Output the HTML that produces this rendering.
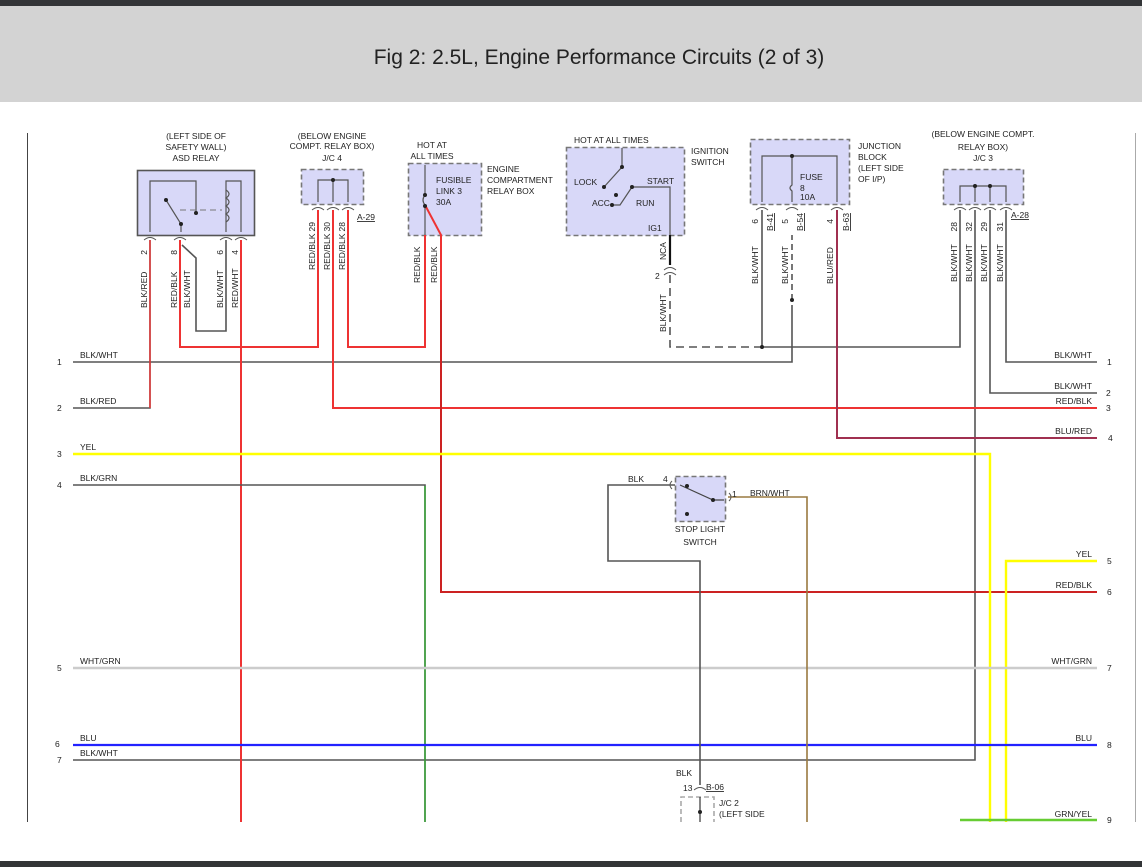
<!DOCTYPE html>
<html><head><meta charset="utf-8"><style>
html,body{margin:0;padding:0;background:#fff;}
svg{display:block;font-family:"Liberation Sans",sans-serif;}
</style></head><body>
<svg width="1142" height="867" viewBox="0 0 1142 867" xmlns="http://www.w3.org/2000/svg">
<rect x="0" y="0" width="1142" height="6" fill="#333537"/>
<rect x="0" y="6" width="1142" height="96" fill="#d3d3d3"/>
<text x="599" y="64" font-size="21" text-anchor="middle" fill="#222">Fig 2: 2.5L, Engine Performance Circuits (2 of 3)</text>
<rect x="0" y="861" width="1142" height="6" fill="#333537"/>
<line x1="27.5" y1="133" x2="27.5" y2="822" stroke="#444" stroke-width="1"/>
<line x1="1135.5" y1="133" x2="1135.5" y2="822" stroke="#aaa" stroke-width="1"/>

<g fill="none" stroke-width="1.6">
<!-- boxes -->
<rect x="137.5" y="170.5" width="117" height="65" fill="#d8d8f8" stroke="#555"/>
<rect x="301.5" y="169.5" width="62" height="35" fill="#d8d8f8" stroke="#777" stroke-dasharray="5,3"/>
<rect x="408.5" y="163.5" width="73" height="72" fill="#d8d8f8" stroke="#777" stroke-dasharray="5,3"/>
<rect x="566.5" y="147.5" width="118" height="88" fill="#d8d8f8" stroke="#777" stroke-dasharray="5,3"/>
<rect x="750.5" y="139.5" width="99" height="65" fill="#d8d8f8" stroke="#777" stroke-dasharray="5,3"/>
<rect x="943.5" y="169.5" width="80" height="35" fill="#d8d8f8" stroke="#777" stroke-dasharray="5,3"/>
<rect x="675.5" y="476.5" width="50" height="45" fill="#d8d8f8" stroke="#777" stroke-dasharray="5,3"/>
<path d="M681 822 V797 H714 V822" stroke="#aaa" stroke-dasharray="5,3"/>

<!-- internal ASD -->
<path d="M150 232 V181 H196 V213 M226 232 V181 H241 V232" stroke="#555" stroke-width="1.2"/>
<path d="M166 200 L181 224 V232" stroke="#555" stroke-width="1.2"/>
<path d="M180 210 H222" stroke="#777" stroke-width="1" stroke-dasharray="6,4"/>
<path d="M226 190 q6 4 0 8 q6 4 0 8 q6 4 0 8 q6 4 0 8" stroke="#555" stroke-width="1.2"/>
<!-- J/C4 internal -->
<path d="M318 202 V180 H348 V202 M333 180 V202" stroke="#555" stroke-width="1.2"/>
<!-- fusible -->
<path d="M425 165 V195 q-4 5 0 10 V235" stroke="#555" stroke-width="1.2"/>
<!-- ignition -->
<path d="M622 148 V167 L604 187 M612 205 H620 L632 187 H670 V235" stroke="#555" stroke-width="1.2"/>
<!-- junction block -->
<path d="M762 202 V156 H837 V202 M792 156 V185 q-4 3 0 6 V202" stroke="#555" stroke-width="1.2"/>
<!-- J/C3 -->
<path d="M960 202 V186 H1006 V202 M975 186 V202 M990 186 V202" stroke="#555" stroke-width="1.2"/>
<!-- stop light -->
<path d="M680 485 L713 500 H724" stroke="#444" stroke-width="1.2"/>

<!-- wires -->
<path d="M73 362 H792 V305" stroke="#555"/>
<path d="M792 300 V235" stroke="#555" stroke-dasharray="6,4"/>
<path d="M73 408 H150 V240" stroke="#555"/>
<path d="M150 408 V240" stroke="#e33" stroke-width="1.4"/>
<path d="M1097 362 H1006 V210" stroke="#555"/>
<path d="M1097 393 H990 V210" stroke="#555"/>
<path d="M975 210 V760 H73" stroke="#555"/>
<path d="M960 210 V347 H762 V210" stroke="#555"/>
<path d="M670 235 V265" stroke="#111" stroke-width="2.2"/>
<path d="M670 275 V347 H762" stroke="#555" stroke-dasharray="8,5"/>
<path d="M180 240 V347 H318 V210" stroke="#e33" stroke-width="2"/>
<path d="M182 245 L196 258 V331 H226 V240" stroke="#555"/>
<path d="M241 240 V822" stroke="#e33" stroke-width="2"/>
<path d="M333 210 V408 H1097" stroke="#e33" stroke-width="2"/>
<path d="M348 210 V347 H425 V235" stroke="#e33" stroke-width="2"/>
<path d="M425 205 L441 235 V592 H1097" stroke="#e33" stroke-width="2"/>
<path d="M441 300 V592 H1097" stroke="#c22" stroke-width="2"/>
<path d="M837 210 V438 H1097" stroke="#a03050" stroke-width="2"/>
<path d="M73 454 H990 V822" stroke="#ff0" stroke-width="2.4"/>
<path d="M1097 561 H1006 V822" stroke="#ff0" stroke-width="2.4"/>
<path d="M73 485 H425 V822" stroke="#555"/>
<path d="M425 486 V822" stroke="#3a3" stroke-width="1.4"/>
<path d="M73 668 H1097" stroke="#ccc" stroke-width="2.4"/>
<path d="M73 745 H1097" stroke="#22f" stroke-width="2.2"/>
<path d="M960 820 H1097" stroke="#6c3" stroke-width="2.4"/>
<path d="M675 485 H608 V561 H700 V785" stroke="#555"/>
<path d="M728 497 H807 V822" stroke="#9a7a40"/>
<path d="M700 797 V822" stroke="#333" stroke-width="1.2"/>
</g>
<g fill="#222">
<circle cx="196" cy="213" r="2"/><circle cx="166" cy="200" r="2"/><circle cx="181" cy="224" r="2"/>
<circle cx="333" cy="180" r="2"/><circle cx="425" cy="195" r="2"/><circle cx="425" cy="206" r="2"/>
<circle cx="622" cy="167" r="2"/><circle cx="604" cy="187" r="2"/><circle cx="616" cy="195" r="2"/><circle cx="612" cy="205" r="2"/><circle cx="632" cy="187" r="2"/>
<circle cx="792" cy="156" r="2"/><circle cx="792" cy="300" r="2"/><circle cx="762" cy="347" r="2"/>
<circle cx="975" cy="186" r="2"/><circle cx="990" cy="186" r="2"/>
<circle cx="687" cy="486" r="2"/><circle cx="713" cy="500" r="2"/><circle cx="687" cy="514" r="2"/><circle cx="700" cy="812" r="2"/>
</g>
<g fill="none" stroke="#555" stroke-width="1">
<path d="M144 240 q6 -5 12 0 M174 240 q6 -5 12 0 M220 240 q6 -5 12 0 M235 240 q6 -5 12 0"/>
<path d="M312 210 q6 -5 12 0 M327 210 q6 -5 12 0 M342 210 q6 -5 12 0"/>
<path d="M756 210 q6 -5 12 0 M786 210 q6 -5 12 0 M831 210 q6 -5 12 0"/>
<path d="M954 210 q6 -5 12 0 M969 210 q6 -5 12 0 M984 210 q6 -5 12 0 M1000 210 q6 -5 12 0"/>
<path d="M664 270 q6 -5 12 0 M664 275 q6 -5 12 0 M694 790 q6 -5 12 0"/>
<path d="M672 481 q-4 4 0 8 M729 493 q4 4 0 8"/>
</g>
<g font-size="8.5" fill="#222">
<text x="196" y="139" text-anchor="middle">(LEFT SIDE OF</text>
<text x="196" y="150" text-anchor="middle">SAFETY WALL)</text>
<text x="196" y="161" text-anchor="middle">ASD RELAY</text>
<text x="332" y="139" text-anchor="middle">(BELOW ENGINE</text>
<text x="332" y="149" text-anchor="middle">COMPT. RELAY BOX)</text>
<text x="332" y="161" text-anchor="middle">J/C 4</text>
<text x="432" y="148" text-anchor="middle">HOT AT</text>
<text x="432" y="159" text-anchor="middle">ALL TIMES</text>
<text x="436" y="183">FUSIBLE</text><text x="436" y="194">LINK 3</text><text x="436" y="205">30A</text>
<text x="487" y="172">ENGINE</text><text x="487" y="183">COMPARTMENT</text><text x="487" y="194">RELAY BOX</text>
<text x="574" y="143">HOT AT ALL TIMES</text>
<text x="691" y="154">IGNITION</text><text x="691" y="165">SWITCH</text>
<text x="574" y="185">LOCK</text><text x="592" y="206">ACC</text><text x="647" y="184">START</text><text x="636" y="206">RUN</text><text x="648" y="231">IG1</text>
<text x="800" y="180">FUSE</text><text x="800" y="191">8</text><text x="800" y="200">10A</text>
<text x="858" y="149">JUNCTION</text><text x="858" y="160">BLOCK</text><text x="858" y="171">(LEFT SIDE</text><text x="858" y="182">OF I/P)</text>
<text x="983" y="137" text-anchor="middle">(BELOW ENGINE COMPT.</text>
<text x="983" y="150" text-anchor="middle">RELAY BOX)</text>
<text x="983" y="161" text-anchor="middle">J/C 3</text>
<text x="357" y="220" text-decoration="underline">A-29</text>
<text x="1011" y="218" text-decoration="underline">A-28</text>
<text x="628" y="482">BLK</text><text x="663" y="482">4</text><text x="732" y="497">1</text><text x="750" y="496">BRN/WHT</text>
<text x="700" y="532" text-anchor="middle">STOP LIGHT</text><text x="700" y="545" text-anchor="middle">SWITCH</text>
<text x="676" y="776">BLK</text><text x="683" y="791">13</text><text x="706" y="790" text-decoration="underline">B-06</text>
<text x="719" y="806">J/C 2</text><text x="719" y="817">(LEFT SIDE</text>
<text x="655" y="279">2</text>
<text x="80" y="358">BLK/WHT</text><text x="80" y="404">BLK/RED</text><text x="80" y="450">YEL</text><text x="80" y="481">BLK/GRN</text>
<text x="80" y="664">WHT/GRN</text><text x="80" y="741">BLU</text><text x="80" y="756">BLK/WHT</text>
<text x="57" y="365">1</text><text x="57" y="411">2</text><text x="57" y="457">3</text><text x="57" y="488">4</text><text x="57" y="671">5</text><text x="55" y="747">6</text><text x="57" y="763">7</text>
<g text-anchor="end">
<text x="1092" y="358">BLK/WHT</text><text x="1092" y="389">BLK/WHT</text><text x="1092" y="404">RED/BLK</text><text x="1092" y="434">BLU/RED</text>
<text x="1092" y="557">YEL</text><text x="1092" y="588">RED/BLK</text><text x="1092" y="664">WHT/GRN</text><text x="1092" y="741">BLU</text><text x="1092" y="817">GRN/YEL</text>
</g>
<text x="1107" y="365">1</text><text x="1106" y="396">2</text><text x="1106" y="411">3</text><text x="1108" y="441">4</text><text x="1107" y="564">5</text><text x="1107" y="595">6</text><text x="1107" y="671">7</text><text x="1107" y="748">8</text><text x="1107" y="823">9</text>
</g>
<g font-size="8.5" fill="#222">
<g transform="rotate(-90)">
<text x="-250" y="147" text-anchor="end">2</text><text x="-250" y="177" text-anchor="end">8</text><text x="-250" y="223" text-anchor="end">6</text><text x="-250" y="238" text-anchor="end">4</text>
<text x="-308" y="147">BLK/RED</text><text x="-308" y="177">RED/BLK</text><text x="-308" y="190">BLK/WHT</text><text x="-308" y="223">BLK/WHT</text><text x="-308" y="238">RED/WHT</text>
<text x="-222" y="315" text-anchor="end">29</text><text x="-222" y="330" text-anchor="end">30</text><text x="-222" y="345" text-anchor="end">28</text>
<text x="-270" y="315">RED/BLK</text><text x="-270" y="330">RED/BLK</text><text x="-270" y="345">RED/BLK</text>
<text x="-283" y="420">RED/BLK</text><text x="-283" y="437">RED/BLK</text>
<text x="-260" y="666">NCA</text><text x="-332" y="666">BLK/WHT</text>
<text x="-219" y="758" text-anchor="end">6</text><text x="-219" y="788" text-anchor="end">5</text><text x="-219" y="833" text-anchor="end">4</text>
<text x="-231" y="773" text-decoration="underline">B-41</text><text x="-231" y="803" text-decoration="underline">B-54</text><text x="-231" y="849" text-decoration="underline">B-63</text>
<text x="-284" y="758">BLK/WHT</text><text x="-284" y="788">BLK/WHT</text><text x="-284" y="833">BLU/RED</text>
<text x="-222" y="957" text-anchor="end">28</text><text x="-222" y="972" text-anchor="end">32</text><text x="-222" y="987" text-anchor="end">29</text><text x="-222" y="1003" text-anchor="end">31</text>
<text x="-282" y="957">BLK/WHT</text><text x="-282" y="972">BLK/WHT</text><text x="-282" y="987">BLK/WHT</text><text x="-282" y="1003">BLK/WHT</text>
</g>
</g>
</svg>
</body></html>
